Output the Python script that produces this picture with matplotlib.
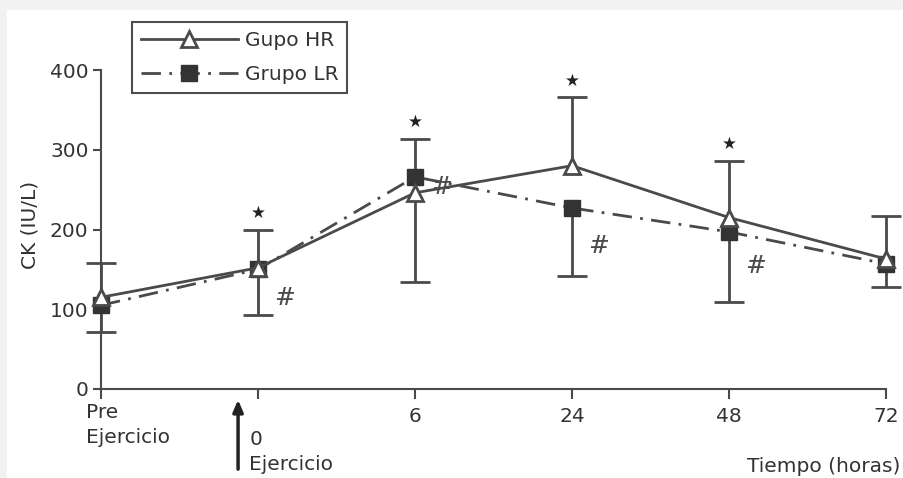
import numpy as np
import matplotlib
matplotlib.use('Agg')
from matplotlib import pyplot as plt
from matplotlib import transforms
from matplotlib.patches import Rectangle

# datos
TIEMPOS      = ['Pre\nEjercicio', '0', '6', '24', '48', '72']
HR_MEDIA     = [115, 152, 246, 280, 215, 163]
LR_MEDIA     = [105, 150, 266, 227, 197, 157]
HR_SD_ARRIBA = [43, 48, 68, 86, 71, 54]
LR_SD_ABAJO  = [34, 57, 132, 85, 88, 29]
ESTRELLA     = [False, True, True, True, True, False]
ALMOHADILLA  = [None, 114, 253, 179, 153, None]

COLOR  = '#4a4a4a'
TEXTO  = '#333333'
FS     = 14.5

fig = plt.figure(figsize=(9.04, 4.78), dpi=100, facecolor='#f2f2f2')
fig.patches.append(Rectangle((7 / 904, 0), 1, 1 - 10 / 478, transform=fig.transFigure,
                             facecolor='white', edgecolor='none', zorder=-10))
ax = fig.add_axes([101 / 904, 89 / 478, 785 / 904, 319 / 478])
ax.set_facecolor('none')

x = np.arange(len(TIEMPOS))
hr = np.array(HR_MEDIA)
lr = np.array(LR_MEDIA)
arriba = hr + np.array(HR_SD_ARRIBA)
abajo = lr - np.array(LR_SD_ABAJO)

# barras de error
ax.vlines(x, hr, arriba, color=COLOR, lw=2, zorder=2, clip_on=False)
ax.vlines(x, abajo, lr, color=COLOR, lw=2, zorder=2, clip_on=False)
ax.plot(x, arriba, ls='none', marker='_', ms=22, mew=2, color=COLOR, clip_on=False)
ax.plot(x, abajo, ls='none', marker='_', ms=22, mew=2, color=COLOR, clip_on=False)

ax.plot(x, hr, '-', color=COLOR, lw=2, marker='^', ms=12, mfc='white', mec=COLOR,
        mew=2, label='Gupo HR', zorder=4, clip_on=False)
ax.plot(x, lr, color=COLOR, lw=2, ls=(0, (7, 3, 1, 3)), marker='s', ms=12,
        mfc='#333333', mec='#333333', label='Grupo LR', zorder=3, clip_on=False)

# estrellas y almohadillas
for i in range(len(x)):
    if ESTRELLA[i]:
        ax.annotate('★', (x[i], arriba[i]), xytext=(0, 12), textcoords='offset points',
                    ha='center', va='center', fontsize=12, color='#222222')
    if ALMOHADILLA[i] is not None:
        ax.text(x[i] + 0.17, ALMOHADILLA[i], '#', ha='center', va='center',
                fontsize=18, family='DejaVu Serif', style='italic', color=COLOR)

ax.set_xlim(0, 5)
ax.set_ylim(0, 400)
ax.set_yticks([0, 100, 200, 300, 400])
ax.set_xticks(x)
ax.set_xticklabels(['', '', '6', '24', '48', '72'])
ax.tick_params(axis='both', colors=COLOR, labelcolor=TEXTO, labelsize=FS, width=1.5)
ax.tick_params(axis='x', length=7, pad=6)
ax.tick_params(axis='y', length=6, pad=3)
for s in ['top', 'right']:
    ax.spines[s].set_visible(False)
for s in ['left', 'bottom']:
    ax.spines[s].set_color(COLOR)
    ax.spines[s].set_linewidth(1.5)

mezcla = transforms.blended_transform_factory(ax.transData, ax.transAxes)
ax.text(-0.095, -0.045, TIEMPOS[0], transform=mezcla, ha='left', va='top',
        fontsize=FS, color=TEXTO, linespacing=1.4)
ax.text(1 - 0.055, -0.13, TIEMPOS[1] + '\nEjercicio', transform=mezcla, ha='left', va='top',
        fontsize=FS, color=TEXTO, linespacing=1.4)
ax.annotate('', xy=(0.873, -0.025), xycoords=mezcla, xytext=(0.873, -0.26), textcoords=mezcla,
            arrowprops=dict(arrowstyle='-|>,head_width=0.3,head_length=0.7', lw=2.5, color='#222222'),
            annotation_clip=False)

fig.text(900 / 904, 1 - 466 / 478, 'Tiempo (horas)', ha='right', va='center', fontsize=FS, color=TEXTO)
fig.text(30 / 904, 1 - 225 / 478, 'CK (IU/L)', ha='center', va='center', rotation=90,
         fontsize=FS, color=TEXTO)

leg = ax.legend(loc='upper left', bbox_to_anchor=(132 / 904, 1 - 22 / 478),
                bbox_transform=fig.transFigure, frameon=True, fancybox=False,
                handlelength=4.8, fontsize=FS, borderpad=0.45, labelspacing=0.75,
                handletextpad=0.35, borderaxespad=0)
leg.get_frame().set_edgecolor('#222222')
leg.get_frame().set_linewidth(1.5)
for t in leg.get_texts():
    t.set_color(TEXTO)

plt.savefig('out.png', dpi=100, facecolor=fig.get_facecolor())
